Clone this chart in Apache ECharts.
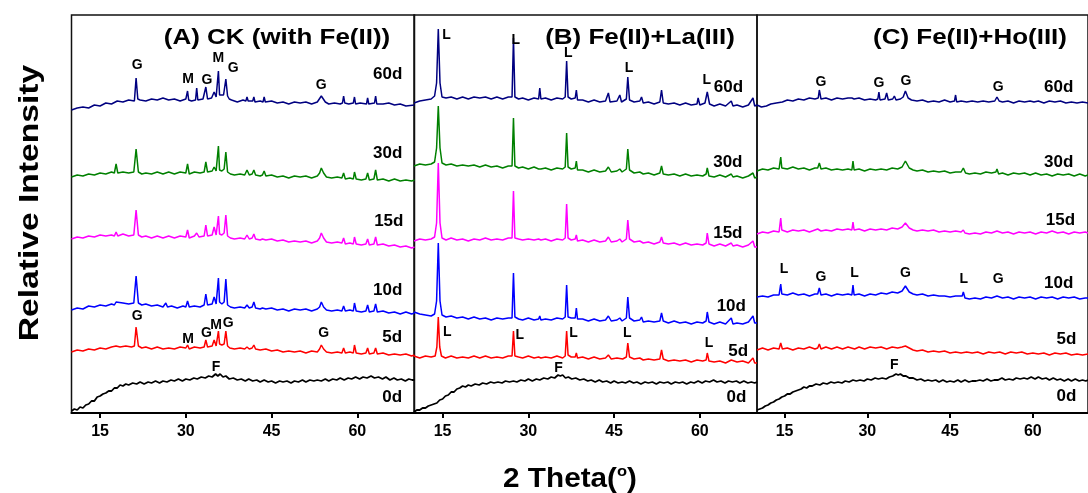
<!DOCTYPE html>
<html><head><meta charset="utf-8">
<script src="https://cdn.jsdelivr.net/npm/echarts@6/dist/echarts.min.js"></script>
<style>html,body{margin:0;padding:0;background:#fff}#c{width:1088px;height:493px}</style>
</head><body><div id="c"></div>
<script>
// ---------- DATA ----------
const days = ['0d','5d','10d','15d','30d','60d'];
const xTicks = [15,30,45,60];
const panelTitles = ['(A) CK (with Fe(II))','(B) Fe(II)+La(III)','(C) Fe(II)+Ho(III)'];

// Panel A: CK (with Fe(II))  [2θ, intensity, 2θ, intensity, ...]
const A_0d = [10,2,10.5,4,11,3,11.5,6,12,5,12.5,8,13,9,13.5,12,14,12,14.5,16,15,17,15.5,19,16,20,16.5,22,17,22,17.5,25,18,25,18.5,28,19,27,19.5,29,20,28,20.7,30,21.4,29,22,31,22.7,29,23.4,31,24,30,24.7,32,25.4,30,26,32,26.7,31,27.4,33,28,32,28.7,34,29.4,32,30,34,30.7,33,31.4,35,32,34,32.7,36,33.4,35,34,37,34.6,36,35.2,39,35.6,37,36,39,36.5,36,37,37,37.6,34,38.3,35,39,33,39.7,34,40.4,32,41,34,41.7,32,42.4,33,43,31,43.7,33,44.4,31,45,32,45.7,30,46.4,32,47,31,47.7,32,48.4,30,49,32,49.7,31,50.4,33,51,31,51.7,33,52.4,32,53,33,53.7,32,54.4,34,55,32,55.7,34,56.4,33,57,35,57.7,33,58.4,35,59,34,59.7,36,60.4,34,61,36,61.7,35,62.4,37,63,35,63.7,36,64.4,34,65,36,65.7,33,66.4,35,67,33,67.7,34,68.4,32,69,34,69.6,33,70,33];
const A_5d = [10,61,11,63,12,62,13,64,14,63,15,65,16,64,17,66,17.8,67,18.5,66,19.5,67,20.5,66,21,67,21.3,86,21.7,67,22.3,65,23,66,24,64,25,66,26,64,27,65,28,64,29,66,30,65,30.3,68,30.6,64,31.5,66,32.5,65,33.2,66,33.5,73,33.8,66,34.6,67,34.95,73,35.3,67,35.5,68,35.7,82,35.9,69,36.3,68,36.7,69,37.0,82,37.3,67,37.7,65,38.5,64,39.5,65,40.3,64,40.7,66,41.1,64,41.6,65,41.9,68,42.2,64,43,63,44,64,45,62,46,63,47,61,48,62,49,61,50,62,51,60,52,62,53,61,53.4,64,53.7,68,54.1,64,54.6,61,55.5,60,56.5,61,57.3,60,57.6,65,57.9,60,58.7,61,59.3,60,59.5,68,59.8,60,60.7,59,61.5,60,61.8,65,62.1,59,62.9,60,63.2,65,63.5,59,64.5,60,65.5,58,66.5,59,67.5,58,68.5,59,69.5,57,70,58];
const A_10d = [10,103,11,105,12,104,13,107,14,106,15,108,16,107,17,109,17.5,108,17.8,111,18.1,109,19,110,20,109,20.9,110,21.3,137,21.7,110,22.3,108,23,109,24,107,25,108,26,106,26.3,107,26.5,110,26.8,106,27.5,107,28.5,105,29.5,107,30,106,30.3,112,30.6,106,31.5,107,32.5,106,33.2,108,33.5,119,33.8,108,34.6,109,34.95,116,35.3,109,35.5,110,35.7,135,35.9,111,36.3,109,36.7,111,37.0,134,37.3,108,37.8,106,38.5,105,39.5,106,40.3,105,40.7,108,41.1,105,41.6,106,41.9,111,42.2,105,43,104,43.4,105,43.7,107,44,104,45,105,46,103,47,104,48,102,49,104,50,103,51,104,52,102,53,104,53.4,106,53.7,111,54.1,106,54.6,103,55.5,102,56.5,103,57.3,102,57.6,107,57.9,102,58.7,103,59.3,102,59.5,110,59.8,102,60.7,101,61.5,102,61.8,108,62.1,101,62.9,102,63.2,109,63.5,101,64.5,102,65.5,100,66.5,101,67.5,99,68.5,101,69.5,99,70,100];
const A_15d = [10,174,11,176,12,175,13,177,14,176,15,178,16,177,17,178,17.5,177,17.8,181,18.1,177,19,179,20,177,20.9,178,21.3,203,21.7,178,22.3,176,23,177,24,175,25,177,26,175,27,177,28,175,29,177,30,176,30.3,183,30.6,175,31.5,177,31.9,180,32.3,176,33.2,177,33.5,188,33.8,177,34.6,178,34.95,186,35.3,178,35.5,179,35.7,197,35.9,179,36.3,178,36.7,180,37.0,198,37.3,177,37.8,175,38.5,174,39.5,175,40.3,174,40.7,178,41.1,174,41.6,175,41.9,179,42.2,174,43,173,43.4,174,43.7,176,44,173,45,174,46,172,47,173,48,171,49,172,50,171,51,172,52,170,53,172,53.4,175,53.7,180,54.1,175,54.6,171,55.5,170,56.5,171,57.3,170,57.6,175,57.9,169,58.7,170,59.3,169,59.5,176,59.8,169,60.7,168,61.5,169,61.8,174,62.1,168,62.9,169,63.2,176,63.5,168,64.5,169,65.5,167,66.5,168,67.5,166,68.5,167,69.5,165,70,166];
const A_30d = [10,236,11,238,12,237,13,239,14,238,15,240,16,239,17,241,17.5,240,17.8,249,18.1,240,19,241,20,240,20.9,241,21.3,264,21.7,241,22.3,239,23,240,24,239,25,241,26,239,27,241,28,239,29,241,30,240,30.3,249,30.6,239,31.5,241,32.5,240,33.2,241,33.5,251,33.8,241,34.6,242,34.95,246,35.3,242,35.5,243,35.7,267,35.9,243,36.3,242,36.7,244,37.0,261,37.3,241,37.8,239,38.5,238,39.5,239,40.3,238,40.7,243,41.1,238,41.6,239,41.9,243,42.2,238,43,237,43.4,238,43.7,242,44,237,45,238,46,236,47,237,48,235,49,237,50,236,51,237,52,235,53,237,53.4,240,53.7,245,54.1,240,54.6,236,55.5,235,56.5,236,57.3,235,57.6,240,57.9,234,58.7,235,59.3,234,59.5,241,59.8,234,60.7,233,61.5,234,61.8,240,62.1,233,62.9,234,63.2,243,63.5,233,64.5,234,65.5,232,66.5,234,67.5,232,68.5,233,69.5,232,70,233];
const A_60d = [10,303,11,305,12,306,13,305,14,308,15,307,16,310,17,309,18,312,19,311,20,313,21,312,21.1,313,21.3,335,21.6,314,22,313,23,312,24,314,25,313,26,315,27,313,28,314,29,312,30,314,30.1,313,30.3,322,30.5,313,31,312,31.7,313,31.9,325,32.1,313,33,314,33.3,315,33.5,326,33.8,314,34.5,315,34.95,321,35.3,316,35.5,318,35.7,342,35.9,318,36.2,317,36.6,318,37.0,334,37.3,317,37.6,314,38,313,39,311,40,313,40.5,312,40.7,316,40.9,312,41.7,312,41.9,316,42.1,311,43,312,43.5,311,43.7,316,43.9,311,45,312,46,310,47,311,48,309,49,311,50,310,51,311,52,309,53,311,53.7,317,54.4,311,55,309,56,310,57,309,57.4,310,57.6,317,57.8,310,58.5,309,59.3,310,59.5,316,59.7,309,60.5,310,61.6,309,61.8,315,62,309,63,310,63.2,317,63.4,309,64.5,309,65.5,310,66.5,308,67.5,309,68.5,307,70,308];

// Panel B: Fe(II)+La(III)
const B_0d = [10,1,10.5,3,11,3,11.5,5,12,5,12.5,7,13,8,13.5,9,14,10,14.5,13,15,14,15.5,17,16,18,16.5,21,17,21,17.5,24,18,25,18.5,27,19,26,19.5,28,20,27,20.7,29,21.4,28,22,30,22.7,29,23.4,31,24,30,24.7,31,25.4,30,26,32,26.7,31,27.4,32,28,31,28.7,33,29.4,32,30,34,30.7,32,31.4,34,32,33,32.7,35,33.4,34,34,36,34.6,35,35.2,38,35.6,37,36,38,36.5,35,37,36,37.6,34,38.3,35,39,33,39.7,34,40.4,32,41,33,41.7,31,42.4,33,43,31,43.7,32,44.4,30,45,32,45.7,30,46.4,31,47,30,47.7,32,48.4,30,49,31,49.7,29,50.4,31,51,30,51.7,31,52.4,29,53,31,53.7,30,54.4,31,55,29,55.7,31,56.4,30,57,31,57.7,29,58.4,31,59,30,59.7,32,60.4,30,61,32,61.7,31,62.4,33,63,31,63.7,32,64.4,30,65,32,65.7,31,66.4,32,67,30,67.7,32,68.4,30,69,31,69.6,30,70,31];
const B_5d = [10,57,11,55,12,57,13,56,13.7,57,14.0,66,14.25,96,14.5,66,14.8,57,15.5,55,16.5,57,17.5,55,18.5,56,19.5,55,20.5,57,21.5,55,22.5,57,23.5,55,24.5,56,25.5,55,26.5,57,27.15,57,27.4,82,27.65,57,28.3,56,29,55,30,57,31,55,31.8,56,32,58,32.2,55,33,56,34,55,35,57,36,55,36.45,57,36.7,82,36.95,58,37.5,56,38.2,56,38.4,60,38.6,55,39.5,56,40.5,54,41.5,56,42.5,54,43.5,55,44,58,44.5,54,45.5,55,46.5,54,47.15,56,47.4,70,47.7,56,48.5,54,49.5,55,49.8,57,50.1,53,51,54,52,53,53,54,53.3,63,53.6,54,54.5,52,55.5,53,56.5,52,57.5,53,58.5,51,59.5,53,60.5,52,61.1,53,61.3,60,61.6,52,62.5,51,63.5,52,64.5,50,65.5,53,66.5,51,67.5,52,68.5,50,69.3,55,69.6,50,70,50];
const B_10d = [10,101,11,99,12,98,13,97,13.6,99,13.95,112,14.25,170,14.55,112,14.9,98,15.6,96,16.5,97,17.5,95,18.5,96,19.5,94,20.5,96,21.5,94,22.5,95,23.5,93,24.5,95,25.5,94,26.5,95,27.15,95,27.4,140,27.65,96,28.3,94,29,93,30,95,31,93,31.8,94,32,97,32.2,93,33,94,34,93,35,95,36,94,36.45,96,36.7,128,36.95,96,37.5,95,38.2,95,38.4,105,38.6,94,39.5,94,40.5,92,41.5,94,42.5,92,43.5,93,44,97,44.5,92,45.5,93,46,95,46.4,92,47.15,95,47.4,116,47.7,95,48.5,92,49.5,93,49.8,96,50.1,91,51,92,52,91,53,92,53.3,100,53.6,92,54.5,90,55.5,92,56.5,90,57.5,91,58.5,89,59.5,91,60.5,90,61.1,92,61.3,101,61.6,91,62.5,89,63.5,91,64.5,89,65.5,95,65.8,89,66.5,90,67.5,89,68.5,91,69.3,97,69.6,90,70,90];
const B_15d = [10,172,11,174,12,173,13,174,13.6,176,13.95,190,14.25,250,14.55,190,14.9,175,15.6,173,16.5,175,17.5,173,18.5,174,19.5,172,20.5,174,21.5,173,22.5,175,23.5,173,24.5,174,25.5,173,26.5,175,27.15,175,27.4,222,27.65,175,28.3,174,29,173,30,174,31,173,31.8,174,32,176,32.2,173,33,174,34,172,35,174,36,173,36.45,175,36.7,209,36.95,175,37.5,173,38.2,174,38.4,178,38.6,172,39.5,173,40.5,171,41.5,173,42.5,171,43.5,172,44,176,44.5,171,45.5,172,46,174,46.4,171,47.15,174,47.4,193,47.7,174,48.5,171,49.5,172,49.8,173,50.1,170,51,171,52,169,53,171,53.3,176,53.6,170,54.5,169,55.5,170,56.5,168,57.5,170,58.5,168,59.5,169,60.5,168,61.1,170,61.3,180,61.6,169,62.5,167,63.5,169,64.5,167,65.5,170,65.8,167,66.5,168,67.5,166,68.5,168,69.3,172,69.6,166,70,166];
const B_30d = [10,247,11,249,12,248,13,249,13.6,251,13.95,265,14.25,307,14.55,265,14.9,250,15.6,248,16.5,249,17.5,247,18.5,248,19.5,247,20.5,248,21.5,246,22.5,248,23.5,246,24.5,247,25.5,245,26.5,247,27.15,247,27.4,295,27.65,247,28.3,245,29,246,30,244,31,246,31.8,244,32,246,32.2,244,33,245,34,243,35,245,36,244,36.45,246,36.7,280,36.95,246,37.5,244,38.2,245,38.4,252,38.6,243,39.5,243,40.5,241,41.5,243,42.5,241,43.5,242,44,246,44.5,241,45.5,242,46,244,46.4,241,47.15,244,47.4,264,47.7,243,48.5,240,49.5,241,49.8,243,50.1,239,51,240,52,238,53,240,53.3,247,53.6,239,54.5,238,55.5,239,56.5,237,57.5,239,58.5,237,59.5,238,59.7,240,60.5,237,61.1,239,61.3,245,61.6,237,62.5,236,63.5,238,64.5,236,65.5,239,65.8,236,66.5,237,67.5,235,68.5,237,69.3,240,69.6,235,70,236];
const B_60d = [10,310,11,312,12,313,13,314,13.6,317,13.95,330,14.25,384,14.55,330,14.9,316,15.6,315,16.5,316,17.5,314,18.5,316,19.5,314,20.5,316,21.5,315,22.5,316,23.5,314,24.5,316,25.5,314,26.5,316,27.15,316,27.4,375,27.65,316,28.3,314,29,315,30,313,31,315,31.8,314,32,325,32.2,314,33,315,34,313,35,315,36,314,36.45,316,36.7,352,36.95,316,37.5,314,38.2,315,38.4,323,38.6,313,39.5,313,40.5,311,41.5,313,42.5,311,43.5,312,44,320,44.3,311,45.5,312,46,318,46.3,311,47.15,314,47.4,336,47.7,313,48.5,311,49.5,312,49.8,316,50.1,310,51,311,52,309,53,311,53.3,323,53.6,310,54.5,309,55.5,310,56.5,308,57.5,310,58.5,308,59.5,309,59.7,315,60,308,60.9,310,61.3,321,61.7,309,62.5,307,63.5,309,64.5,307,65.5,312,65.8,307,66.5,308,67.5,306,68.5,308,69.3,315,69.6,307,70,308];

// Panel C: Fe(II)+Ho(III)
const C_0d = [10,3,10.5,4,11,5,11.5,7,12,8,12.5,10,13,11,13.5,13,14,14,14.5,16,15,17,15.5,19,16,19,16.5,21,17,22,17.5,23,18,24,18.5,26,19,25,19.5,27,20,27,20.7,29,21.4,28,22,30,22.7,29,23.4,31,24,30,24.7,31,25.4,30,26,32,26.7,31,27.4,33,28,32,28.7,33,29.4,32,30,34,30.7,33,31.4,35,32,34,32.7,35,33.4,34,34,36,34.6,37,35.2,39,35.6,38,36,39,36.5,37,37,37,37.6,35,38.3,35,39,33,39.7,34,40.4,32,41,33,41.7,32,42.4,33,43,31,43.7,33,44.4,31,45,32,45.7,31,46.4,33,47,31,47.7,33,48.4,31,49,32,49.7,32,50.4,33,51,32,51.7,34,52.4,32,53,33,53.7,33,54.4,35,55,33,55.7,34,56.4,33,57,35,57.7,34,58.4,35,59,34,59.7,36,60.4,34,61,36,61.7,34,62.4,35,63,33,63.7,35,64.4,33,65,34,65.7,32,66.4,34,67,32,67.7,34,68.4,32,69,33,69.6,32,70,33];
const C_5d = [10,63,11,65,12,63,13,65,14,64,14.3,70,14.6,64,15.5,65,16.5,63,17.5,65,18.5,64,19.5,66,20.5,64,21,65,21.3,69,21.6,64,22.5,66,23.5,64,24.5,66,25.5,64,26.5,66,27.1,65,27.4,67,27.7,64,28.5,66,29.5,64,30.5,66,31.5,65,32.5,66,33.5,64,34.5,66,35.5,65,36.3,66,36.9,67,37.6,65,38.3,63,39,62,40,63,41,61,42,62,43,61,44,62,45,60,46,61,47,60,48,61,49,60,50,61,51,59,52,61,53,60,54,61,55,59,56,61,57,60,58,61,59,59,60,60,61,59,62,60,63,58,64,60,65,59,66,60,67,58,68,59,69,58,70,59];
const C_10d = [10,116,11,117,12,116,13,118,14,118,14.1,119,14.3,129,14.5,119,15.5,118,16.5,120,17.5,118,18.5,119,19.5,117,20.5,119,21,119,21.3,125,21.6,118,22.5,119,23.5,117,24.5,119,25.5,118,26.5,119,27.2,118,27.4,128,27.6,118,28.5,119,29.5,117,30.5,119,31.5,118,32.5,120,33.5,119,34.5,121,35.5,120,36.3,122,36.9,127,37.6,121,38.3,119,39,118,40,119,41,117,42,118,43,117,44,117,45,116,46,117,47.2,117,47.4,121,47.7,115,48.5,114,49.5,115,50.5,114,51.5,116,52.5,115,53.5,117,54.5,115,55.5,116,56.5,114,57.5,116,58.5,115,59.5,116,60.5,114,61.5,116,62.5,115,63.5,116,64.5,114,65.5,116,66.5,115,67.5,116,68.5,114,69.5,115,70,115];
const C_15d = [10,179,11,181,12,180,13,182,14,181,14.1,183,14.3,195,14.5,183,15.5,181,16.5,183,17.5,182,18.5,183,19.5,181,20.5,183,21,184,21.3,186,21.6,182,22.5,183,23.5,182,24.5,184,25.5,183,26.5,184,27.2,183,27.4,191,27.6,183,28.5,184,29.5,182,30.5,184,31.5,183,32.5,184,33.5,183,34.5,185,35.5,184,36.3,186,36.9,190,37.6,185,38.3,183,39,182,40,183,41,182,42,183,43,181,44,182,45,181,46,182,47,181,47.4,183,47.7,180,48.5,179,49.5,180,50.5,179,51.5,181,52.5,180,53.5,182,54.5,180,55.5,181,56.5,179,57.5,181,58.5,180,59.5,181,60.5,179,61.5,181,62.5,180,63.5,182,64.5,180,65.5,181,66.5,179,67.5,181,68.5,180,69.5,181,70,180];
const C_30d = [10,242,11,244,12,243,13,245,14,244,14.1,245,14.3,256,14.5,245,15.5,244,16.5,246,17.5,244,18.5,245,19.5,243,20.5,245,21,245,21.3,250,21.6,244,22.5,245,23.5,243,24.5,244,25.5,243,26.5,244,27.2,243,27.4,252,27.6,243,28.5,244,29.5,242,30.5,244,31.5,243,32.5,244,33.5,243,34.5,245,35.5,244,36.3,246,36.9,252,37.6,245,38.3,243,39,242,40,243,41,241,42,242,43,241,44,242,45,240,46,241,47,241,47.4,245,47.8,240,48.5,239,49.5,240,50.5,239,51.5,241,52.5,240,53.3,241,53.5,244,53.8,239,54.5,240,55.5,238,56.5,240,57.5,239,58.5,240,59.5,238,60.5,240,61.5,238,62.5,239,63.5,237,64.5,239,65.5,238,66.5,239,67.5,237,68.5,239,69.5,237,70,238];
const C_60d = [10,308,10.8,306,11.7,307,12.5,309,13.5,310,14.6,311,15.5,313,16.5,312,17.5,314,18.5,313,19.5,315,20.5,314,21.1,315,21.3,323,21.6,314,22.5,315,23.5,313,24.5,315,25.5,314,26.5,315,27.2,315,27.4,316,27.6,314,28.5,315,29.5,313,30.5,314,31.5,313,31.9,314,32.1,321,32.3,313,33.2,314,33.5,320,33.8,313,34.6,314,34.9,317,35.2,313,36,314,36.5,316,36.9,322,37.4,315,38,313,39,312,40,313,41,311,42,312,43,311,44,313,45,311,45.8,312,46.0,318,46.2,311,47,312,48,311,49,312,50,311,51,312,52,311,53.1,312,53.5,316,53.9,312,54.5,311,55.5,312,56.5,310,57.5,312,58.5,311,59.5,312,59.8,314,60.2,311,61,312,62,310,63,312,64,311,65,312,66,310,67,311,68,310,69,311,70,310];

// Phase annotations [label, 2θ, intensity]
const annA = [['G',21.5,348],['M',30.4,334],['G',33.7,333],['M',35.7,355],['G',38.3,345],['G',53.7,328],
              ['G',21.5,97],['M',30.4,74],['G',33.6,80],['M',35.3,88],['G',37.4,90],['G',54.1,80],['F',35.3,46]];
const annB = [['L',15.7,378],['L',27.8,373],['L',37.0,360],['L',47.6,345],['L',61.2,333],
              ['L',15.8,81],['L',28.5,78],['L',37.9,80],['L',47.3,80],['L',61.6,70],['F',35.3,45]];
const annC = [['G',21.6,331],['G',32.1,330],['G',37.0,332],['G',53.7,326],
              ['L',14.9,144],['G',21.6,136],['L',27.7,140],['G',36.9,140],['L',47.5,134],['G',53.7,134],['F',34.9,48]];
// Day label anchors [2θ, intensity] in order of `days`
const dayA = [[66.1,16],[66.1,76],[65.3,123],[65.5,192],[65.3,260],[65.3,339]];
const dayB = [[66.4,16],[66.7,62],[65.5,107],[64.9,180],[64.9,251],[65.0,326]];
const dayC = [[66.1,17],[66.1,74],[64.7,130],[65.0,193],[64.7,251],[64.7,326]];

// ---------- CHART ----------
const colors = ['#000000','#ff0000','#0000ff','#ff00ff','#008000','#000080'];
const widths = [1.8,1.5,1.5,1.5,1.5,1.5];
const FONT = '"Liberation Sans", Arial, sans-serif';
function pairs(flat){const o=[];for(let i=0;i<flat.length;i+=2)o.push([flat[i],flat[i+1]]);return o;}
const panels = [
  {traces:[A_0d,A_5d,A_10d,A_15d,A_30d,A_60d], ann:annA, day:dayA},
  {traces:[B_0d,B_5d,B_10d,B_15d,B_30d,B_60d], ann:annB, day:dayB},
  {traces:[C_0d,C_5d,C_10d,C_15d,C_30d,C_60d], ann:annC, day:dayC}
];
const gridLefts = [71.5, 414, 757];
const grid=[], xAxis=[], yAxis=[], series=[];
function labelSeries(i, data, size){
  return {type:'scatter', xAxisIndex:i, yAxisIndex:i, symbol:'circle', symbolSize:0.5, itemStyle:{color:'#ffffff', opacity:1},
    silent:true, animation:false, z:5, data,
    label:{show:true, position:'inside', formatter:'{b}', color:'#000000', opacity:1, textBorderWidth:0, textShadowBlur:0,
      fontSize:size, fontWeight:'bold', fontFamily:FONT}};
}
panels.forEach((p,i)=>{
  grid.push({left:gridLefts[i], top:15, width:343, height:398, show:true, borderColor:'#111', borderWidth:1.5, backgroundColor:'transparent'});
  xAxis.push({type:'value', gridIndex:i, min:10, max:70,
    axisLine:{show:true, onZero:false, lineStyle:{color:'#000', width:2}},
    axisTick:{show:true, inside:false, length:5, customValues:xTicks, lineStyle:{color:'#000', width:2}},
    axisLabel:{show:true, customValues:xTicks, margin:11, color:'#000', fontSize:16, fontWeight:'bold', fontFamily:FONT},
    splitLine:{show:false}});
  yAxis.push({type:'value', gridIndex:i, min:0, max:398, show:false});
  p.traces.forEach((t,k)=>{
    series.push({type:'line', name:days[k], xAxisIndex:i, yAxisIndex:i, data:pairs(t), showSymbol:false, symbol:'none',
      lineStyle:{color:colors[k], width:widths[k]}, itemStyle:{color:colors[k]}, silent:true, animation:false, z:2});
  });
  series.push(labelSeries(i, p.ann.map(a=>({name:a[0], value:[a[1],a[2]]})), 14));
  series.push(labelSeries(i, p.day.map((d,k)=>({name:days[k], value:d})), 17));
});
const titleX = [277, 640, 970];
const graphic = panelTitles.map((t,i)=>({type:'text', x:titleX[i], y:38, scaleX:1.18, z:10,
  style:{text:t, fill:'#000', font:'bold 22px '+FONT, textAlign:'center', textVerticalAlign:'middle'}}));
graphic.push({type:'text', x:30, y:203, rotation:Math.PI/2, scaleX:1.2, z:10,
  style:{text:'Relative Intensity', fill:'#000', font:'bold 28px '+FONT, textAlign:'center', textVerticalAlign:'middle'}});
graphic.push({type:'text', x:570, y:479, scaleX:1.1, z:10,
  style:{text:'{a|2 Theta(}{s|o}{a|)}', textAlign:'center', textVerticalAlign:'middle',
    rich:{a:{font:'bold 27px '+FONT, fill:'#000', verticalAlign:'bottom'}, s:{font:'bold 15px '+FONT, fill:'#000', verticalAlign:'top', padding:[0,0,14,0]}}}});
const chart = echarts.init(document.getElementById('c'), null, {renderer:'canvas'});
chart.setOption({animation:false, backgroundColor:'#fff', grid, xAxis, yAxis, series, graphic});
</script></body></html>
